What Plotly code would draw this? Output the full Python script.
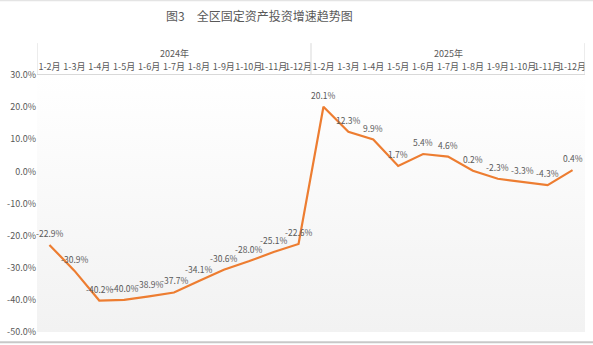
import plotly.graph_objects as go

years = ["2024年", "2025年"]
months = ["1-2月", "1-3月", "1-4月", "1-5月", "1-6月", "1-7月", "1-8月", "1-9月", "1-10月", "1-11月", "1-12月"]
growth_2024 = [-22.9, -30.9, -40.2, -40.0, -38.9, -37.7, -34.1, -30.6, -28.0, -25.1, -22.6]
growth_2025 = [20.1, 12.3, 9.9, 1.7, 5.4, 4.6, 0.2, -2.3, -3.3, -4.3, 0.4]
y_ticks = [30, 20, 10, 0, -10, -20, -30, -40, -50]
title = "图3　全区固定资产投资增速趋势图"

FONT = "Noto Sans CJK SC, Noto Sans, sans-serif"
GRAY = "#595959"

labels = months + months
values = growth_2024 + growth_2025
xs = list(range(len(values)))
ymin, ymax = min(y_ticks), max(y_ticks)
xlo, xhi = -0.5, len(values) - 0.5

fig = go.Figure()

# gradient background
fig.add_trace(go.Scatter(
    x=[xlo, xhi, xhi, xlo, xlo], y=[ymin, ymin, ymax, ymax, ymin],
    mode="lines", line=dict(width=0), fill="toself",
    fillgradient=dict(type="vertical", colorscale=[[0, "#f2f2f2"], [1, "#ffffff"]]),
    hoverinfo="skip", showlegend=False,
))

fig.add_trace(go.Scatter(
    x=xs, y=values, mode="lines",
    line=dict(color="#ED7D31", width=2.2),
    showlegend=False,
))

fig.update_xaxes(
    range=[xlo, xhi], tickvals=xs, ticktext=labels, side="top",
    showgrid=True, gridcolor="#e3e3e3", gridwidth=1,
    showline=True, linecolor="#d9d9d9", linewidth=1,
    zeroline=False, ticks="",
    tickfont=dict(family=FONT, size=9, color=GRAY), tickangle=0,
)
fig.update_yaxes(
    range=[ymin, ymax], tickvals=y_ticks, ticktext=[f"{t:.1f}%" for t in y_ticks],
    showgrid=False, zeroline=False, showline=False, ticks="",
    tickfont=dict(family=FONT, size=9, color=GRAY),
)

shapes = []
for xv in [xlo, (len(growth_2024) - 0.5), xhi]:
    shapes.append(dict(type="line", xref="x", yref="paper", x0=xv, x1=xv, y0=1.0, y1=1.124,
                       line=dict(color="#d9d9d9", width=1)))
shapes.append(dict(type="line", xref="paper", yref="paper", x0=-0.07, x1=1.02, y0=-0.04, y1=-0.04,
                   line=dict(color="#c8c8c8", width=2)))
shapes.append(dict(type="line", xref="paper", yref="paper", x0=-0.07, x1=1.02, y0=1.289, y1=1.289,
                   line=dict(color="#dddddd", width=1)))

annotations = []
for xv, v in zip(xs, values):
    annotations.append(dict(x=xv, y=v, xref="x", yref="y", text=f"{v:.1f}%", showarrow=False,
                            yshift=12, yanchor="middle",
                            font=dict(family=FONT, size=8.5, color=GRAY)))
n24 = len(growth_2024)
centers = [(n24 - 1) / 2, n24 + (len(growth_2025) - 1) / 2]
for yr, c in zip(years, centers):
    annotations.append(dict(x=c, y=1.085, xref="x", yref="paper", text=yr, showarrow=False,
                            font=dict(family=FONT, size=9, color=GRAY), yanchor="middle"))
annotations.append(dict(x=(163 - 36) / 550, y=(333 - 15) / 258, xref="paper", yref="paper", text=title,
                        showarrow=False, xanchor="left", yanchor="middle",
                        font=dict(family=FONT, size=12, color=GRAY)))

fig.update_layout(
    width=593, height=345,
    margin=dict(l=36, r=7, t=75, b=12),
    paper_bgcolor="#ffffff", plot_bgcolor="rgba(0,0,0,0)",
    shapes=shapes, annotations=annotations,
    font=dict(family=FONT),
)

fig.write_html("out.html")
